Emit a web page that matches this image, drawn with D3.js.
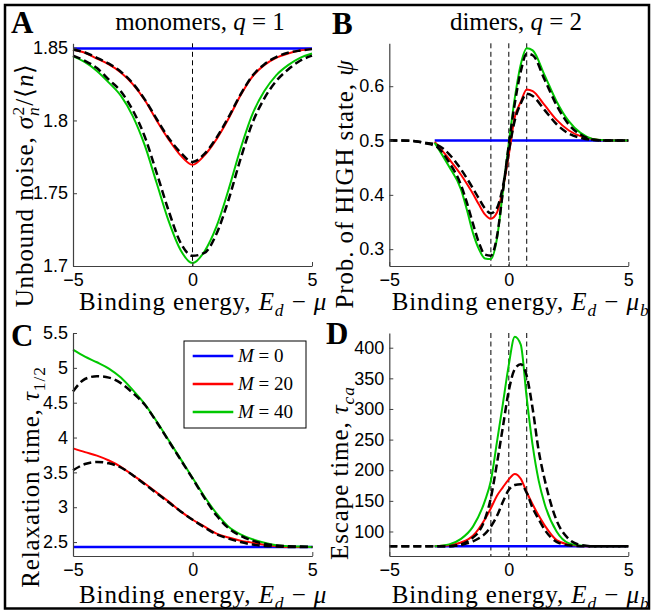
<!doctype html>
<html lang="en">
<head>
<meta charset="utf-8">
<title>Binding energy panels</title>
<script src="https://d3js.org/d3.v7.min.js"></script>
<style>
  body { margin: 0; background: #fff; }
  svg { display: block; }
  .tick text { font-family: "Liberation Sans", Arial, sans-serif; font-size: 18px; fill: #000; }
  .tick line, .domain { stroke: #404040; }
  .lab { font-family: "Liberation Serif", "Times New Roman", serif; font-size: 25px; fill: #000; }
  .wide { letter-spacing: 0.9px; }
  .letter { font-family: "Liberation Serif", "Times New Roman", serif; font-weight: bold; font-size: 31px; }
  .leg { font-family: "Liberation Serif", "Times New Roman", serif; font-size: 19px; }
</style>
</head>
<body>
<script>
// ---------- data ----------
const xTicks = [-5, 0, 5];
const xTickLabels = ["\u22125", "0", "5"];
const vLinesA = [0];
const vLinesBD = [-0.75, 0, 0.75];

// A: monomers, unbound noise
const aX = [-5,-4.5,-4,-3.5,-3,-2.5,-2,-1.5,-1,-0.5,0,0.5,1,1.5,2,2.5,3,3.5,4,4.5,5];
const aBlueX = [-5, 5];
const aBlue = [1.8495, 1.8495];
const aRed = [1.8488,1.8465,1.8425,1.8385,1.833,1.825,1.814,1.800,1.787,1.776,1.7695,1.776,1.787,1.801,1.817,1.830,1.838,1.843,1.846,1.848,1.849];
const aGreen = [1.844,1.840,1.834,1.826,1.817,1.803,1.783,1.757,1.731,1.711,1.702,1.710,1.727,1.752,1.780,1.804,1.820,1.831,1.838,1.843,1.846];
const aDash20 = [1.8488,1.8467,1.843,1.839,1.8335,1.8255,1.8145,1.801,1.788,1.778,1.7715,1.777,1.788,1.802,1.8175,1.8305,1.8385,1.8435,1.8465,1.848,1.849];
const aDash40 = [1.8445,1.841,1.836,1.828,1.820,1.807,1.789,1.764,1.738,1.716,1.707,1.709,1.722,1.745,1.773,1.798,1.815,1.827,1.835,1.841,1.8445];
const aYTicks = [1.7, 1.75, 1.8, 1.85];
const aYTickLabels = ["1.7", "1.75", "1.8", "1.85"];

// B: dimers, probability of HIGH state
const bSimX = [-3.1,-2.5,-2,-1.75,-1.5,-1.25,-1,-0.75,-0.5,-0.25,0,0.25,0.5,0.75,1,1.5,2,2.5,3,3.5,4,4.5,5];
const bBlueX = [-3.1, 5];
const bBlue = [0.5, 0.5];
const bRed = [0.4975,0.466,0.437,0.420,0.402,0.382,0.364,0.356,0.367,0.410,0.474,0.543,0.571,0.594,0.591,0.565,0.538,0.519,0.508,0.503,0.5005,0.5,0.5];
const bGreen = [0.4957,0.452,0.410,0.372,0.330,0.300,0.283,0.282,0.318,0.405,0.495,0.578,0.640,0.670,0.666,0.620,0.572,0.536,0.514,0.503,0.5005,0.5,0.5];
const bThX = [-5,-4.5,-4,-3.5,-3,-2.5,-2,-1.75,-1.5,-1.25,-1,-0.75,-0.5,-0.25,0,0.25,0.5,0.75,1,1.5,2,2.5,3,3.5,4,4.5,5];
const bDash20 = [0.5,0.5,0.499,0.496,0.492,0.475,0.447,0.430,0.412,0.393,0.375,0.366,0.375,0.415,0.480,0.537,0.568,0.586,0.582,0.556,0.530,0.513,0.505,0.501,0.5,0.5,0.5];
const bDash40 = [0.5,0.5,0.499,0.495,0.488,0.460,0.418,0.385,0.347,0.312,0.290,0.288,0.322,0.405,0.492,0.568,0.627,0.660,0.657,0.612,0.565,0.530,0.511,0.502,0.5,0.5,0.5];
const bYTicks = [0.3, 0.4, 0.5, 0.6];
const bYTickLabels = ["0.3", "0.4", "0.5", "0.6"];

// C: monomers, relaxation time
const cX = aX;
const cBlueX = [-5, 5];
const cBlue = [2.43, 2.43];
const cRed = [3.845,3.79,3.74,3.67,3.58,3.46,3.34,3.21,3.08,2.94,2.82,2.72,2.62,2.565,2.52,2.49,2.46,2.44,2.43,2.43,2.43];
const cGreen = [5.26,5.16,5.08,4.99,4.86,4.68,4.48,4.23,3.96,3.69,3.42,3.15,2.91,2.72,2.61,2.54,2.49,2.455,2.44,2.435,2.43];
const cDash20 = [3.53,3.62,3.65,3.63,3.57,3.46,3.33,3.20,3.07,2.94,2.82,2.71,2.61,2.55,2.50,2.465,2.445,2.435,2.43,2.43,2.43];
const cDash40 = [4.66,4.84,4.88,4.86,4.78,4.64,4.47,4.22,3.95,3.68,3.41,3.13,2.88,2.70,2.59,2.52,2.475,2.45,2.44,2.435,2.43];
const cYTicks = [2.5, 3, 3.5, 4, 4.5, 5, 5.5];
const cYTickLabels = ["2.5", "3", "3.5", "4", "4.5", "5", "5.5"];

// D: dimers, escape time
const dSimX = [-3.1,-2.5,-2,-1.5,-1,-0.75,-0.5,-0.25,0,0.25,0.5,0.75,1,1.25,1.5,2,2.5,3,3.5,4,4.5,5];
const dBlueX = [-3.1, 5];
const dBlue = [76, 76];
const dRed = [76,77.5,82,93,120,138,158,172,185,194,186,164,144,126,110,86,79,76.5,76,76,76,76];
const dGreen = [76,79,88,108,150,183,245,308,372,418,405,318,240,183,145,100,81,77,76,76,76,76];
const dThX = [-5,-4,-3,-2.5,-2,-1.5,-1.25,-1,-0.75,-0.5,-0.25,0,0.25,0.5,0.75,1,1.25,1.5,2,2.5,3,3.5,4,5];
const dDash20 = [76,76,76,76,78,84,89,96,108,125,148,168,176,177,163,138,120,103,83,77.5,76,76,76,76];
const dDash40 = [76,76,76,76,79,90,100,120,155,210,270,330,365,373,354,300,232,185,118,88,78,76,76,76];
const dYTicks = [100, 150, 200, 250, 300, 350, 400];
const dYTickLabels = ["100", "150", "200", "250", "300", "350", "400"];

const legendLabels = ["0", "20", "40"];

// ---------- styles ----------
const BLUE = "#0000ff", RED = "#ff0000", GREEN = "#00c800";
const styles = {
  blue:  {stroke: BLUE,  w: 2.5, dash: null},
  red:   {stroke: RED,   w: 2,   dash: null},
  green: {stroke: GREEN, w: 2,   dash: null},
  dash:  {stroke: "#000", w: 2.5, dash: "8,4"}
};

const width = 653, height = 614;
const svg = d3.select("body").append("svg").attr("width", width).attr("height", height);

// rich text helper (italic / sub / sup parts)
function richText(sel, parts, size) {
  let shift = 0;
  parts.forEach(p => {
    const t = sel.append("tspan").text(p.t);
    const target = p.sub ? size * 0.25 : p.sup ? -size * 0.38 : 0;
    t.attr("dy", target - shift);
    shift = target;
    if (p.sub || p.sup) t.attr("font-size", size * 0.7);
    if (p.i) t.attr("font-style", "italic");
    if (p.dx) t.attr("dx", p.dx);
  });
}

const xlabA = [{t: "Binding energy,  "}, {t: "E", i: 1}, {t: "d", i: 1, sub: 1}, {t: " \u2212 "}, {t: "\u03bc", i: 1}];
const xlabB = xlabA.concat([{t: "b", i: 1, sub: 1}]);

const panels = [
  {letter: "A", lx: 11, ly: 33, left: 73, right: 312, top: 43.3, bottom: 266, yDomain: [1.7, 1.853],
   yTicks: aYTicks, yTickLabels: aYTickLabels, vlines: vLinesA,
   series: [[aBlueX, aBlue, "blue"], [aX, aRed, "red"], [aX, aGreen, "green"], [aX, aDash20, "dash"], [aX, aDash40, "dash"]],
   title: [{t: "monomers, "}, {t: "q", i: 1}, {t: " = 1"}], tx: 200, ty: 30,
   ylab: [{t: "Unbound noise,  "}, {t: "\u03c3", i: 1}, {t: "n", i: 1, sub: 1}, {t: "2", sup: 1, dx: -9}, {t: "/\u27e8"}, {t: "n", i: 1}, {t: "\u27e9"}],
   yx: 33, yy: 185, xlab: xlabA, xx: 79, xy: 310},
  {letter: "B", lx: 332, ly: 34, left: 389.3, right: 628.3, top: 43.3, bottom: 266, yDomain: [0.269, 0.679],
   yTicks: bYTicks, yTickLabels: bYTickLabels, vlines: vLinesBD,
   series: [[bBlueX, bBlue, "blue"], [bSimX, bRed, "red"], [bSimX, bGreen, "green"], [bThX, bDash20, "dash"], [bThX, bDash40, "dash"]],
   title: [{t: "dimers, "}, {t: "q", i: 1}, {t: " = 2"}], tx: 516, ty: 30,
   ylab: [{t: "Prob. of HIGH state,  "}, {t: "\u03c8", i: 1}],
   yx: 353, yy: 184, xlab: xlabB, xx: 391.7, xy: 310},
  {letter: "C", lx: 11, ly: 346, left: 73, right: 312.3, top: 333, bottom: 556, yDomain: [2.3, 5.5],
   yTicks: cYTicks, yTickLabels: cYTickLabels, vlines: [],
   series: [[cBlueX, cBlue, "blue"], [cX, cRed, "red"], [cX, cGreen, "green"], [cX, cDash20, "dash"], [cX, cDash40, "dash"]],
   title: null,
   ylab: [{t: "Relaxation time,  "}, {t: "\u03c4", i: 1}, {t: "1/2", sub: 1}],
   yx: 39, yy: 477, xlab: xlabA, xx: 79, xy: 603},
  {letter: "D", lx: 326, ly: 344, left: 389.3, right: 628.3, top: 333, bottom: 556, yDomain: [60, 424],
   yTicks: dYTicks, yTickLabels: dYTickLabels, vlines: vLinesBD,
   series: [[dBlueX, dBlue, "blue"], [dSimX, dRed, "red"], [dSimX, dGreen, "green"], [dThX, dDash20, "dash"], [dThX, dDash40, "dash"]],
   title: null,
   ylab: [{t: "Escape time,  "}, {t: "\u03c4", i: 1}, {t: "ca", i: 1, sub: 1}],
   yx: 348, yy: 473, xlab: xlabB, xx: 391.7, xy: 603}
];

panels.forEach(p => {
  const x = d3.scaleLinear().domain([-5, 5]).range([p.left, p.right]);
  const y = d3.scaleLinear().domain(p.yDomain).range([p.bottom, p.top]);
  const g = svg.append("g");

  // vertical guide lines
  g.selectAll(".vl").data(p.vlines).enter().append("line")
    .attr("x1", d => x(d)).attr("x2", d => x(d))
    .attr("y1", p.top).attr("y2", p.bottom)
    .attr("stroke", "#000").attr("stroke-width", 1).attr("stroke-dasharray", "5,3.5");

  // curves
  const line = d3.line().curve(d3.curveMonotoneX);
  p.series.forEach(([xs, ys, kind]) => {
    const st = styles[kind];
    g.append("path")
      .attr("d", line(xs.map((v, i) => [x(v), y(ys[i])])))
      .attr("fill", "none")
      .attr("stroke", st.stroke)
      .attr("stroke-width", st.w)
      .attr("stroke-dasharray", st.dash)
      .attr("stroke-linejoin", "round");
  });

  // axes (ticks pointing inward)
  g.append("g").attr("transform", `translate(0,${p.bottom})`)
    .call(d3.axisBottom(x).tickValues(xTicks).tickFormat((d, i) => xTickLabels[i])
      .tickSizeInner(-4).tickSizeOuter(0).tickPadding(7));
  g.append("g").attr("transform", `translate(${p.left},0)`)
    .call(d3.axisLeft(y).tickValues(p.yTicks).tickFormat((d, i) => p.yTickLabels[i])
      .tickSizeInner(-4).tickSizeOuter(0).tickPadding(5));
  g.selectAll(".domain").attr("stroke-width", 1.2);

  // texts
  svg.append("text").attr("class", "letter").attr("x", p.lx).attr("y", p.ly).text(p.letter);
  if (p.title) {
    const t = svg.append("text").attr("class", "lab").attr("x", p.tx).attr("y", p.ty).attr("text-anchor", "middle");
    richText(t, p.title, 25);
  }
  const yl = svg.append("text").attr("class", "lab wide").attr("text-anchor", "middle")
    .attr("transform", `translate(${p.yx},${p.yy}) rotate(-90)`);
  richText(yl, p.ylab, 25);
  const xl = svg.append("text").attr("class", "lab wide").attr("x", p.xx).attr("y", p.xy);
  richText(xl, p.xlab, 25);
});

// legend in panel C
const leg = svg.append("g");
leg.append("rect").attr("x", 184).attr("y", 341).attr("width", 122).attr("height", 87)
  .attr("fill", "#fff").attr("stroke", "#000").attr("stroke-width", 1);
[BLUE, RED, GREEN].forEach((c, i) => {
  const yy = 356 + i * 28;
  leg.append("line").attr("x1", 192.7).attr("x2", 233.3).attr("y1", yy).attr("y2", yy)
    .attr("stroke", c).attr("stroke-width", 2.5);
  const t = leg.append("text").attr("class", "leg").attr("x", 238).attr("y", yy + 6);
  richText(t, [{t: "M", i: 1}, {t: "  = " + legendLabels[i]}], 19);
});

// outer frame
svg.append("rect").attr("x", 5).attr("y", 5).attr("width", 644).attr("height", 603.5)
  .attr("fill", "none").attr("stroke", "#000").attr("stroke-width", 2.5);
</script>
</body>
</html>
